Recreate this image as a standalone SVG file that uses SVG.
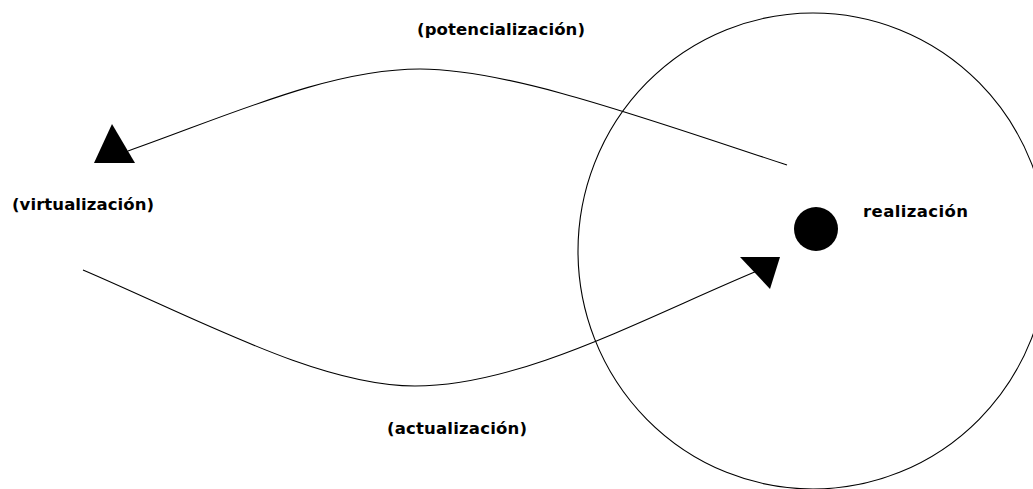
<svg xmlns="http://www.w3.org/2000/svg" width="1033" height="489" viewBox="0 0 1033 489">
<style>
.lbl{font-family:"DejaVu Sans","Liberation Sans",sans-serif;font-weight:bold;font-size:16.5px;fill:#000}
.ln{fill:none;stroke:#000;stroke-width:1.1}
.head{fill:#000;stroke:none}
</style>
<rect width="1033" height="489" fill="#fff"/>
<g id="realm">
<ellipse cx="813" cy="251" rx="235" ry="238" class="ln"/>
</g>
<g id="connectors">
<path class="ln" d="M787,165 C650,120 510,69 420,69 C330,69 230,115 128,151"/>
<polygon class="head" points="112,124 94,163 135,163"/>
<path class="ln" d="M83,270 C200,320 320,386 415,386 C520,386 640,320 757,271"/>
<polygon class="head" points="740,257 780,257 770,289"/>
</g>
<g id="realizacion">
<circle cx="816" cy="229" r="22" fill="#000"/>
<text class="lbl" x="863" y="217" textLength="105" lengthAdjust="spacing">realización</text>
</g>
<g id="virtualizacion">
<text class="lbl" x="12" y="210" textLength="142" lengthAdjust="spacing">(virtualización)</text>
</g>
<g id="potencializacion">
<text class="lbl" x="417" y="35" textLength="168" lengthAdjust="spacing">(potencialización)</text>
</g>
<g id="actualizacion">
<text class="lbl" x="387" y="434" textLength="140" lengthAdjust="spacing">(actualización)</text>
</g>
</svg>
